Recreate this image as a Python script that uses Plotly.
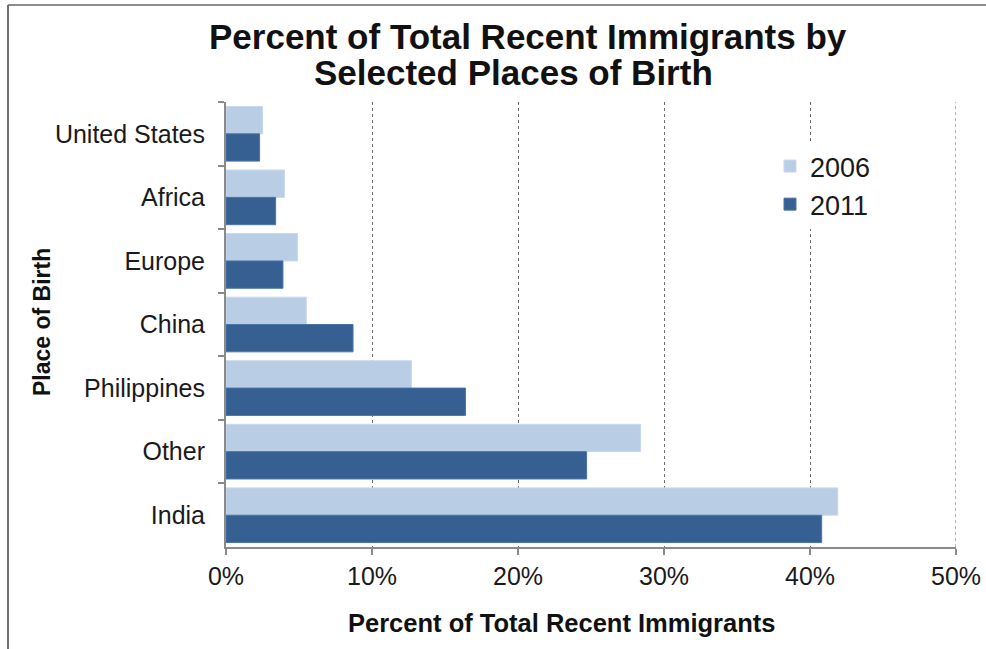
import plotly.graph_objects as go

# Places of birth (top to bottom) and share of recent immigrants, in percent
places = ["United States", "Africa", "Europe", "China", "Philippines", "Other", "India"]
share_2006 = [2.5, 4.0, 4.9, 5.5, 12.7, 28.4, 41.9]
share_2011 = [2.3, 3.4, 3.9, 8.7, 16.4, 24.7, 40.8]
x_ticks = [0, 10, 20, 30, 40, 50]
x_tick_text = ["0%", "10%", "20%", "30%", "40%", "50%"]

W, H = 986, 649
ML, MR, MT, MB = 226, 30, 102, 102
PW, PH = W - ML - MR, H - MT - MB

def px_x(px):
    return (px - ML) / PW

def px_y(py):
    return 1 - (py - MT) / PH

FONT = "Liberation Sans, Arial, sans-serif"
AXIS_GREY = "#8a8a8a"
GRID_GREY = "#6e6e6e"

fig = go.Figure()
fig.add_trace(go.Bar(
    y=places, x=share_2006, name="2006", orientation="h",
    marker=dict(color="#b9cde5", line=dict(color="#c9d9ec", width=1)),
    legendgroup="a",
))
fig.add_trace(go.Bar(
    y=places, x=share_2011, name="2011", orientation="h",
    marker=dict(color="#376092", line=dict(color="#4a74a8", width=1)),
    legendgroup="b",
))

fig.update_layout(
    width=W, height=H,
    margin=dict(l=ML, r=MR, t=MT, b=MB, pad=0, autoexpand=False),
    paper_bgcolor="white", plot_bgcolor="white",
    barmode="group", bargap=0.14, bargroupgap=0,
    font=dict(family=FONT, color="#1a1a1a"),
    showlegend=True,
    legend=dict(
        x=px_x(770), y=px_y(142), xanchor="left", yanchor="top",
        font=dict(size=27, family=FONT, color="#1a1a1a"),
        traceorder="normal", tracegroupgap=22,
        bgcolor="white", itemwidth=30,
    ),
)

fig.update_xaxes(
    range=[0, 50], tickvals=x_ticks, ticktext=x_tick_text,
    showgrid=True, gridcolor=GRID_GREY, griddash="dot", gridwidth=1,
    showline=True, linecolor=AXIS_GREY, linewidth=2,
    ticks="outside", ticklen=6, tickcolor=AXIS_GREY, tickwidth=2,
    tickfont=dict(size=25, family=FONT, color="#1a1a1a"),
    ticklabeloverflow="allow", automargin=False,
    zeroline=False, fixedrange=True,
)
fig.update_yaxes(
    autorange="reversed", type="category",
    showline=True, linecolor=AXIS_GREY, linewidth=2,
    ticks="outside", tickson="boundaries", ticklen=6, tickcolor=AXIS_GREY, tickwidth=2,
    tickfont=dict(size=25, family=FONT, color="#1a1a1a"),
    ticklabelstandoff=14, automargin=False,
    showgrid=False, zeroline=False, fixedrange=True,
)

# Gridline at the right end of the value axis (50%)
fig.add_shape(type="line", xref="x", yref="paper",
              x0=x_ticks[-1], x1=x_ticks[-1], y0=0, y1=1,
              line=dict(color=GRID_GREY, width=1, dash="dot"), layer="below")

# Title lines, axis titles
annotations = [
    dict(text="<b>Percent of Total Recent Immigrants by</b>", x=px_x(528), y=px_y(36),
         font=dict(size=35)),
    dict(text="<b>Selected Places of Birth</b>", x=px_x(513), y=px_y(73),
         font=dict(size=35)),
    dict(text="<b>Percent of Total Recent Immigrants</b>", x=px_x(561), y=px_y(623),
         font=dict(size=25.5)),
    dict(text="<b>Place of Birth</b>", x=px_x(42), y=px_y(322), textangle=-90,
         font=dict(size=23)),
]
for a in annotations:
    a.update(xref="paper", yref="paper", xanchor="center", yanchor="middle",
             showarrow=False)
    a["font"].update(family=FONT, color="#111111")
fig.update_layout(annotations=annotations)

# Chart frame along the top and left edges
fig.add_shape(type="line", xref="paper", yref="paper",
              x0=px_x(8), x1=px_x(W + 5), y0=px_y(5), y1=px_y(5),
              line=dict(color="#8c8c8c", width=2))
fig.add_shape(type="line", xref="paper", yref="paper",
              x0=px_x(8), x1=px_x(8), y0=px_y(5), y1=px_y(H + 5),
              line=dict(color="#6f6f6f", width=2))

fig.write_html("out.html")
